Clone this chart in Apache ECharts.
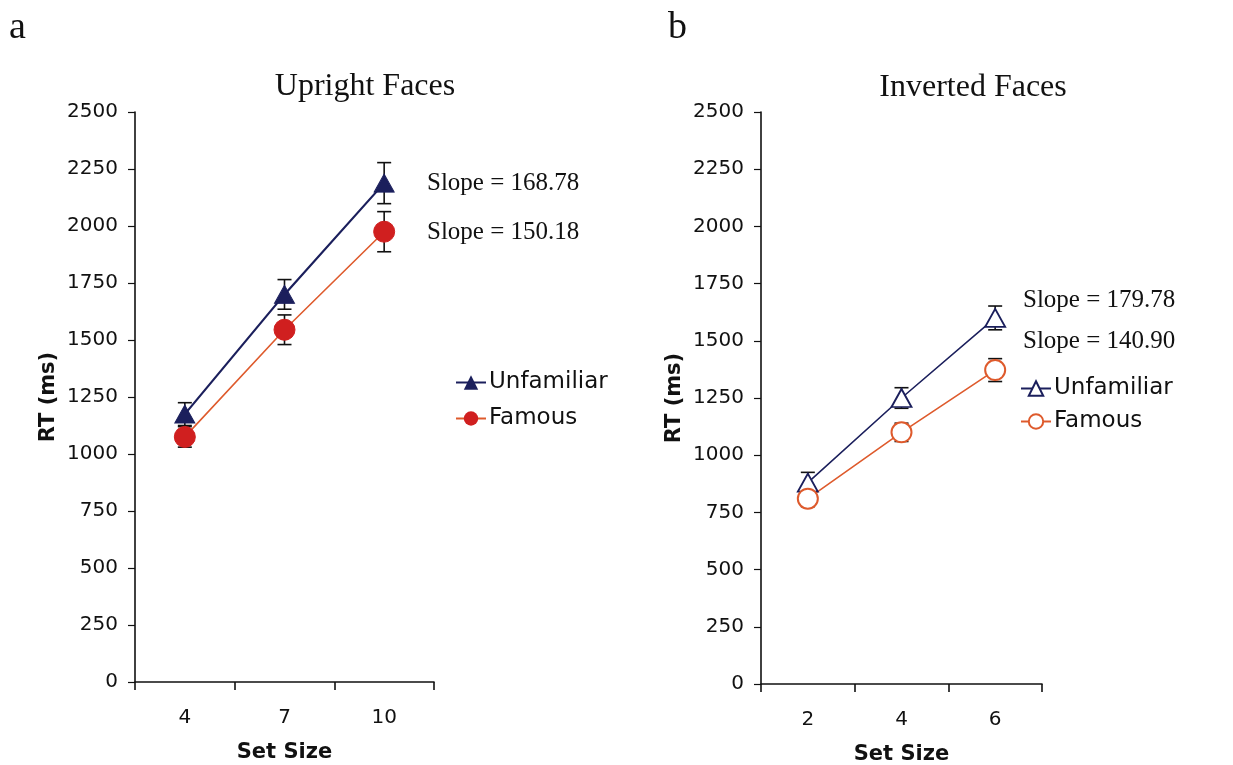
<!DOCTYPE html>
<html>
<head>
<meta charset="utf-8">
<script src="https://cdn.jsdelivr.net/npm/echarts@6/dist/echarts.min.js"></script>
<style>
html,body{margin:0;padding:0;background:#fff;}
#chart{width:1233px;height:765px;}
</style>
</head>
<body>
<div id="chart"></div>
<script>
// ---- data ----
const setSizeUpright = ['4', '7', '10'];
const uprightUnfamiliar = [1175, 1700, 2188];
const uprightUnfamiliarErr = [50, 65, 90];
const uprightFamous = [1075, 1545, 1975];
const uprightFamousErr = [45, 65, 88];

const setSizeInverted = ['2', '4', '6'];
const invertedUnfamiliar = [880, 1250, 1600];
const invertedUnfamiliarErr = [45, 45, 52];
const invertedFamous = [810, 1100, 1372];
const invertedFamousErr = [35, 40, 50];

const yTicks = [0, 250, 500, 750, 1000, 1250, 1500, 1750, 2000, 2250, 2500];
const slopeUpright = ['Slope = 168.78', 'Slope = 150.18'];
const slopeInverted = ['Slope = 179.78', 'Slope = 140.90'];

// ---- styles ----
const NAVY = '#1b1f5c';
const RED = '#d01f1f';
const ORANGE = '#de5a2c';
const SANS = 'DejaVu Sans, Verdana, sans-serif';
const SERIF = 'Liberation Serif, Times New Roman, serif';

function errData(vals, errs) {
  return vals.map((v, i) => [i, v - errs[i], v + errs[i]]);
}
function errSeries(vals, errs, xi, yi) {
  return {
    type: 'custom',
    xAxisIndex: xi, yAxisIndex: yi,
    z: 1, silent: true,
    data: errData(vals, errs),
    renderItem: function (params, api) {
      const lo = api.coord([api.value(0), api.value(1)]);
      const hi = api.coord([api.value(0), api.value(2)]);
      const w = 7;
      const st = { stroke: '#111', lineWidth: 1.6 };
      return {
        type: 'group',
        children: [
          { type: 'line', shape: { x1: lo[0], y1: lo[1], x2: hi[0], y2: hi[1] }, style: st },
          { type: 'line', shape: { x1: lo[0] - w, y1: lo[1], x2: lo[0] + w, y2: lo[1] }, style: st },
          { type: 'line', shape: { x1: hi[0] - w, y1: hi[1], x2: hi[0] + w, y2: hi[1] }, style: st }
        ]
      };
    }
  };
}

function xAxisCfg(gi, cats) {
  return {
    type: 'category', gridIndex: gi, data: cats, boundaryGap: true,
    axisLine: { lineStyle: { color: '#111', width: 1.6 } },
    axisTick: { show: true, length: 8, alignWithLabel: false, lineStyle: { color: '#111', width: 1.6 } },
    axisLabel: { color: '#111', fontFamily: SANS, fontSize: 20, margin: 26 },
    name: 'Set Size', nameLocation: 'middle', nameGap: 60,
    nameTextStyle: { color: '#111', fontFamily: SANS, fontSize: 21, fontWeight: 'bold' }
  };
}
function yAxisCfg(gi) {
  return {
    type: 'value', gridIndex: gi, min: yTicks[0], max: yTicks[yTicks.length - 1], interval: yTicks[1] - yTicks[0],
    splitLine: { show: false },
    axisLine: { show: true, lineStyle: { color: '#111', width: 1.6 } },
    axisTick: { show: true, length: 7, lineStyle: { color: '#111', width: 1.2 } },
    axisLabel: { color: '#111', fontFamily: SANS, fontSize: 20, margin: 17, formatter: (v) => String(v) },
    name: 'RT (ms)', nameLocation: 'middle', nameGap: 76, nameRotate: 90,
    nameTextStyle: { color: '#111', fontFamily: SANS, fontSize: 21, fontWeight: 'bold' }
  };
}

const chart = echarts.init(document.getElementById('chart'), null, { renderer: 'canvas' });
const option = {
  backgroundColor: '#fff',
  animation: false,
  grid: [
    { left: 135, top: 112, width: 299, height: 570, containLabel: false, outerBoundsMode: 'none' },
    { left: 761, top: 112, width: 281, height: 572, containLabel: false, outerBoundsMode: 'none' }
  ],
  xAxis: [xAxisCfg(0, setSizeUpright), xAxisCfg(1, setSizeInverted)],
  yAxis: [yAxisCfg(0), yAxisCfg(1)],
  legend: [
    {
      left: 455, top: 371, padding: 0, orient: 'vertical', itemGap: 13, itemWidth: 30, itemHeight: 18,
      textStyle: { fontFamily: SANS, fontSize: 23, color: '#111', padding: [0, 0, 0, -2] },
      data: ['Unfamiliar', 'Famous']
    },
    {
      left: 1020, top: 377, padding: 0, orient: 'vertical', itemGap: 10, itemWidth: 30, itemHeight: 18,
      textStyle: { fontFamily: SANS, fontSize: 23, color: '#111', padding: [0, 0, 0, -2] },
      data: ['Unfamiliar ', 'Famous ']
    }
  ],
  series: [
    errSeries(uprightUnfamiliar, uprightUnfamiliarErr, 0, 0),
    errSeries(uprightFamous, uprightFamousErr, 0, 0),
    errSeries(invertedUnfamiliar, invertedUnfamiliarErr, 1, 1),
    errSeries(invertedFamous, invertedFamousErr, 1, 1),
    {
      name: 'Unfamiliar', type: 'line', xAxisIndex: 0, yAxisIndex: 0, z: 3,
      data: uprightUnfamiliar, symbol: 'triangle', symbolSize: [20, 18],
      lineStyle: { color: NAVY, width: 2.2 },
      itemStyle: { color: NAVY, borderColor: NAVY }
    },
    {
      name: 'Famous', type: 'line', xAxisIndex: 0, yAxisIndex: 0, z: 3,
      data: uprightFamous, symbol: 'circle', symbolSize: 21,
      lineStyle: { color: ORANGE, width: 1.6 },
      itemStyle: { color: RED, borderColor: RED }
    },
    {
      name: 'Unfamiliar ', type: 'line', xAxisIndex: 1, yAxisIndex: 1, z: 3,
      data: invertedUnfamiliar, symbol: 'triangle', symbolSize: [20, 18],
      lineStyle: { color: NAVY, width: 1.6 },
      itemStyle: { color: '#fff', borderColor: NAVY, borderWidth: 1.8 }
    },
    {
      name: 'Famous ', type: 'line', xAxisIndex: 1, yAxisIndex: 1, z: 3,
      data: invertedFamous, symbol: 'circle', symbolSize: 20,
      lineStyle: { color: ORANGE, width: 1.6 },
      itemStyle: { color: '#fff', borderColor: ORANGE, borderWidth: 2 }
    }
  ],
  graphic: [
    { type: 'text', left: 9, top: 9, style: { text: 'a', font: '38px ' + SERIF, fill: '#111' } },
    { type: 'text', left: 668, top: 9, style: { text: 'b', font: '38px ' + SERIF, fill: '#111' } },
    { type: 'text', x: 365, y: 87, style: { text: 'Upright Faces', font: '32px ' + SERIF, fill: '#111', align: 'center', verticalAlign: 'middle' } },
    { type: 'text', x: 973, y: 88, style: { text: 'Inverted Faces', font: '32px ' + SERIF, fill: '#111', align: 'center', verticalAlign: 'middle' } },
    { type: 'text', x: 427, y: 183, style: { text: slopeUpright[0], font: '25px ' + SERIF, fill: '#111', verticalAlign: 'middle' } },
    { type: 'text', x: 427, y: 232, style: { text: slopeUpright[1], font: '25px ' + SERIF, fill: '#111', verticalAlign: 'middle' } },
    { type: 'text', x: 1023, y: 300, style: { text: slopeInverted[0], font: '25px ' + SERIF, fill: '#111', verticalAlign: 'middle' } },
    { type: 'text', x: 1023, y: 341, style: { text: slopeInverted[1], font: '25px ' + SERIF, fill: '#111', verticalAlign: 'middle' } }
  ]
};
chart.setOption(option);
</script>
</body>
</html>
